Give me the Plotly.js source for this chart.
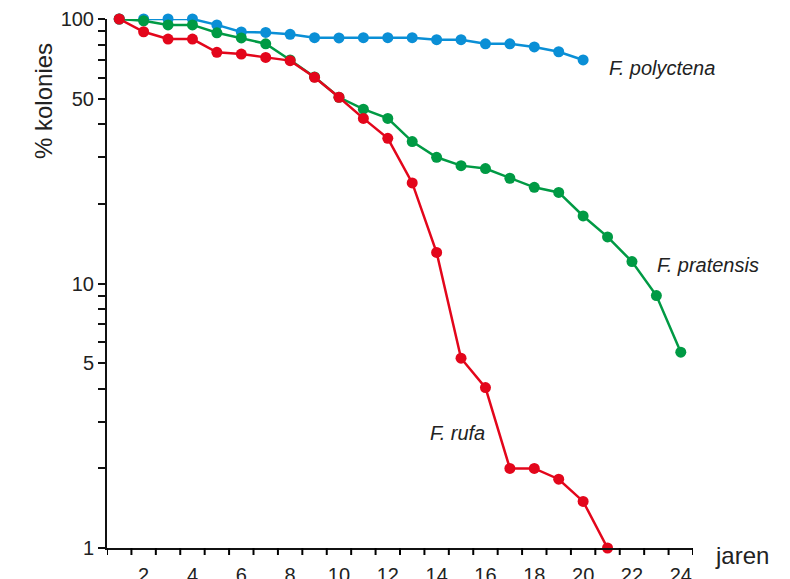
<!DOCTYPE html>
<html>
<head>
<meta charset="utf-8">
<script src="https://cdn.plot.ly/plotly-3.0.1.min.js"></script>
<style>html,body{margin:0;padding:0;background:#fff;}#chart{width:790px;height:579px;}</style>
</head>
<body>
<div id="chart"></div>
<script>
const yearsPolyctena = [1,2,3,4,5,6,7,8,9,10,11,12,13,14,15,16,17,18,19,20];
const polyctena = [100,100,100,100,95,89.3,89,87.5,85,84.8,85,85,85,83.5,83.5,80.6,80.6,78.4,75.2,70];

const yearsPratensis = [1,2,3,4,5,6,7,8,9,10,11,12,13,14,15,16,17,18,19,20,21,22,23,24];
const pratensis = [100,98.5,95,95,88.7,84.8,80.6,70,60.4,50.6,45.6,42.1,34.4,30,27.9,27.2,25,23.1,22.1,18,15,12.1,9,5.5];

const yearsRufa = [1,2,3,4,5,6,7,8,9,10,11,12,13,14,15,16,17,18,19,20,21];
const rufa = [100,89.5,84,84,74.8,73.7,71.6,69.6,60.2,50.6,42.1,35.4,24,13.1,5.22,4.04,2,2,1.82,1.5,1];

const xTickVals = [2,4,6,8,10,12,14,16,18,20,22,24];
// tick marks sit between the years
const xBoundaryTicks = [0.5,1.5,2.5,3.5,4.5,5.5,6.5,7.5,8.5,9.5,10.5,11.5,12.5,13.5,14.5,15.5,16.5,17.5,18.5,19.5,20.5,21.5,22.5,23.5,24.5];
const yTickVals = [1,2,3,4,5,6,7,8,9,10,20,30,40,50,60,70,80,90,100];
const yTickText = ['1','','','','5','','','','','10','','','','50','','','','','100'];

const seriesNames = ['F. polyctena','F. pratensis','F. rufa'];
const colors = ['#0a8fd6','#009a44','#e3061b'];

function trace(x, y, c, name) {
  return {x: x, y: y, type: 'scatter', mode: 'lines+markers', name: name,
    line: {color: c, width: 2.5}, marker: {color: c, size: 11}, cliponaxis: false};
}

const data = [
  trace(yearsPolyctena, polyctena, colors[0], seriesNames[0]),
  trace(yearsPratensis, pratensis, colors[1], seriesNames[1]),
  trace(yearsRufa, rufa, colors[2], seriesNames[2])
];

const font = {family: 'Liberation Sans, Arial, sans-serif', size: 20, color: '#222'};
const labelFont = {family: 'Liberation Sans, Arial, sans-serif', size: 20, color: '#222'};

const tickShapes = xBoundaryTicks.map(function (v) {
  return {type: 'line', xref: 'x', yref: 'paper', x0: v, x1: v, y0: 0, y1: -7 / 529,
    line: {color: '#000', width: 2}, layer: 'above'};
});

const layout = {
  width: 790, height: 579,
  margin: {l: 107, r: 97, t: 19, b: 31, pad: 0},
  paper_bgcolor: '#fff', plot_bgcolor: '#fff',
  showlegend: false,
  font: font,
  xaxis: {
    range: [0.5, 24.5], showgrid: false, zeroline: false,
    showline: true, linecolor: '#111', linewidth: 2,
    tickmode: 'array', tickvals: xTickVals,
    ticks: 'outside', ticklen: 8, tickcolor: 'rgba(0,0,0,0)',
    tickfont: font
  },
  yaxis: {
    type: 'log', range: [0, 2], showgrid: false, zeroline: false,
    showline: true, linecolor: '#111', linewidth: 2,
    tickmode: 'array', tickvals: yTickVals, ticktext: yTickText,
    ticks: 'outside', ticklen: 7, tickwidth: 2, tickcolor: '#111',
    tickfont: font
  },
  shapes: tickShapes,
  annotations: [
    {text: '% kolonies', xref: 'paper', yref: 'paper', x: -0.1075, y: 0.845, xanchor: 'center', yanchor: 'middle',
     textangle: -90, showarrow: false, font: {family: font.family, size: 24, color: '#222'}},
    {text: 'jaren', xref: 'paper', yref: 'paper', x: 1.0836, y: -0.015, xanchor: 'center', yanchor: 'middle',
     showarrow: false, font: {family: font.family, size: 24, color: '#222'}},
    {text: '<i>' + seriesNames[0] + '</i>', xref: 'paper', yref: 'paper', x: 0.853, y: 0.907, xanchor: 'left', yanchor: 'middle',
     showarrow: false, font: labelFont},
    {text: '<i>' + seriesNames[1] + '</i>', xref: 'paper', yref: 'paper', x: 0.935, y: 0.535, xanchor: 'left', yanchor: 'middle',
     showarrow: false, font: labelFont},
    {text: '<i>' + seriesNames[2] + '</i>', xref: 'paper', yref: 'paper', x: 0.548, y: 0.2174, xanchor: 'left', yanchor: 'middle',
     showarrow: false, font: labelFont}
  ]
};

Plotly.newPlot('chart', data, layout, {displayModeBar: false, staticPlot: true});
</script>
</body>
</html>
